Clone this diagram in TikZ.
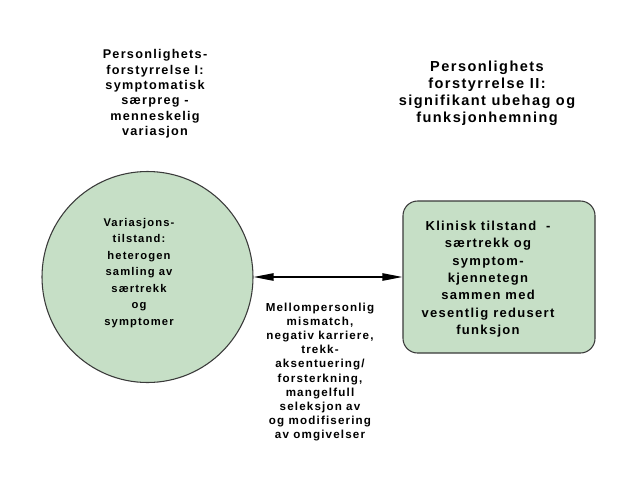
\documentclass[tikz,border=0pt]{standalone}
\usepackage{fontspec}
\setmainfont{Liberation Sans}[LetterSpace=10]
\usetikzlibrary{arrows.meta}
\definecolor{boxgreen}{HTML}{C6DFC6}
\definecolor{edgegray}{HTML}{3A3A3A}
\tikzset{
  x=0.75pt, y=-0.75pt,
  txt/.style={align=center, inner sep=0pt},
  shapefill/.style={fill=boxgreen, draw=edgegray, line width=0.8pt},
  link/.style={line width=1.1pt, {Triangle[length=15pt,width=5.5pt]}-{Triangle[length=15pt,width=5.5pt]}}
}
\begin{document}
\begin{tikzpicture}
\useasboundingbox[fill=white] (0,0) rectangle (638,479);
\node[shapefill, circle, minimum size=158.25pt, inner sep=0pt] (var) at (147.5,277) {};
\node[shapefill, rectangle, rounded corners=11pt, minimum width=144pt, minimum height=114pt] (klin) at (499,277) {};
\draw[link] (var.east) -- (klin.west);
\node[txt, font=\fontsize{9.5pt}{11.5pt}\selectfont\bfseries] (t1) at (155,94) {Personlighets-\\forstyrrelse I:\\symptomatisk\\særpreg -\\menneskelig\\variasjon};
\node[txt, font=\fontsize{10.9pt}{12.7pt}\selectfont\bfseries] (t2) at (487,93) {Personlighets\\forstyrrelse II:\\signifikant ubehag og\\funksjonhemning};
\node[txt, font=\fontsize{8.4pt}{12.4pt}\selectfont\bfseries] (t3) at (139,273) {Variasjons-\\tilstand:\\heterogen\\samling av\\særtrekk\\og\\symptomer};
\node[txt, font=\fontsize{9.75pt}{13pt}\selectfont\bfseries] (t4) at (488,279) {Klinisk tilstand~ -\\særtrekk og\\symptom-\\kjennetegn\\sammen med\\vesentlig redusert\\funksjon};
\node[txt, font=\fontsize{8.7pt}{10.6pt}\selectfont\bfseries] (t5) at (320,372) {Mellompersonlig\\mismatch,\\negativ karriere,\\trekk-\\aksentuering/\\forsterkning,\\mangelfull\\seleksjon av\\og modifisering\\av omgivelser};
\end{tikzpicture}
\end{document}
